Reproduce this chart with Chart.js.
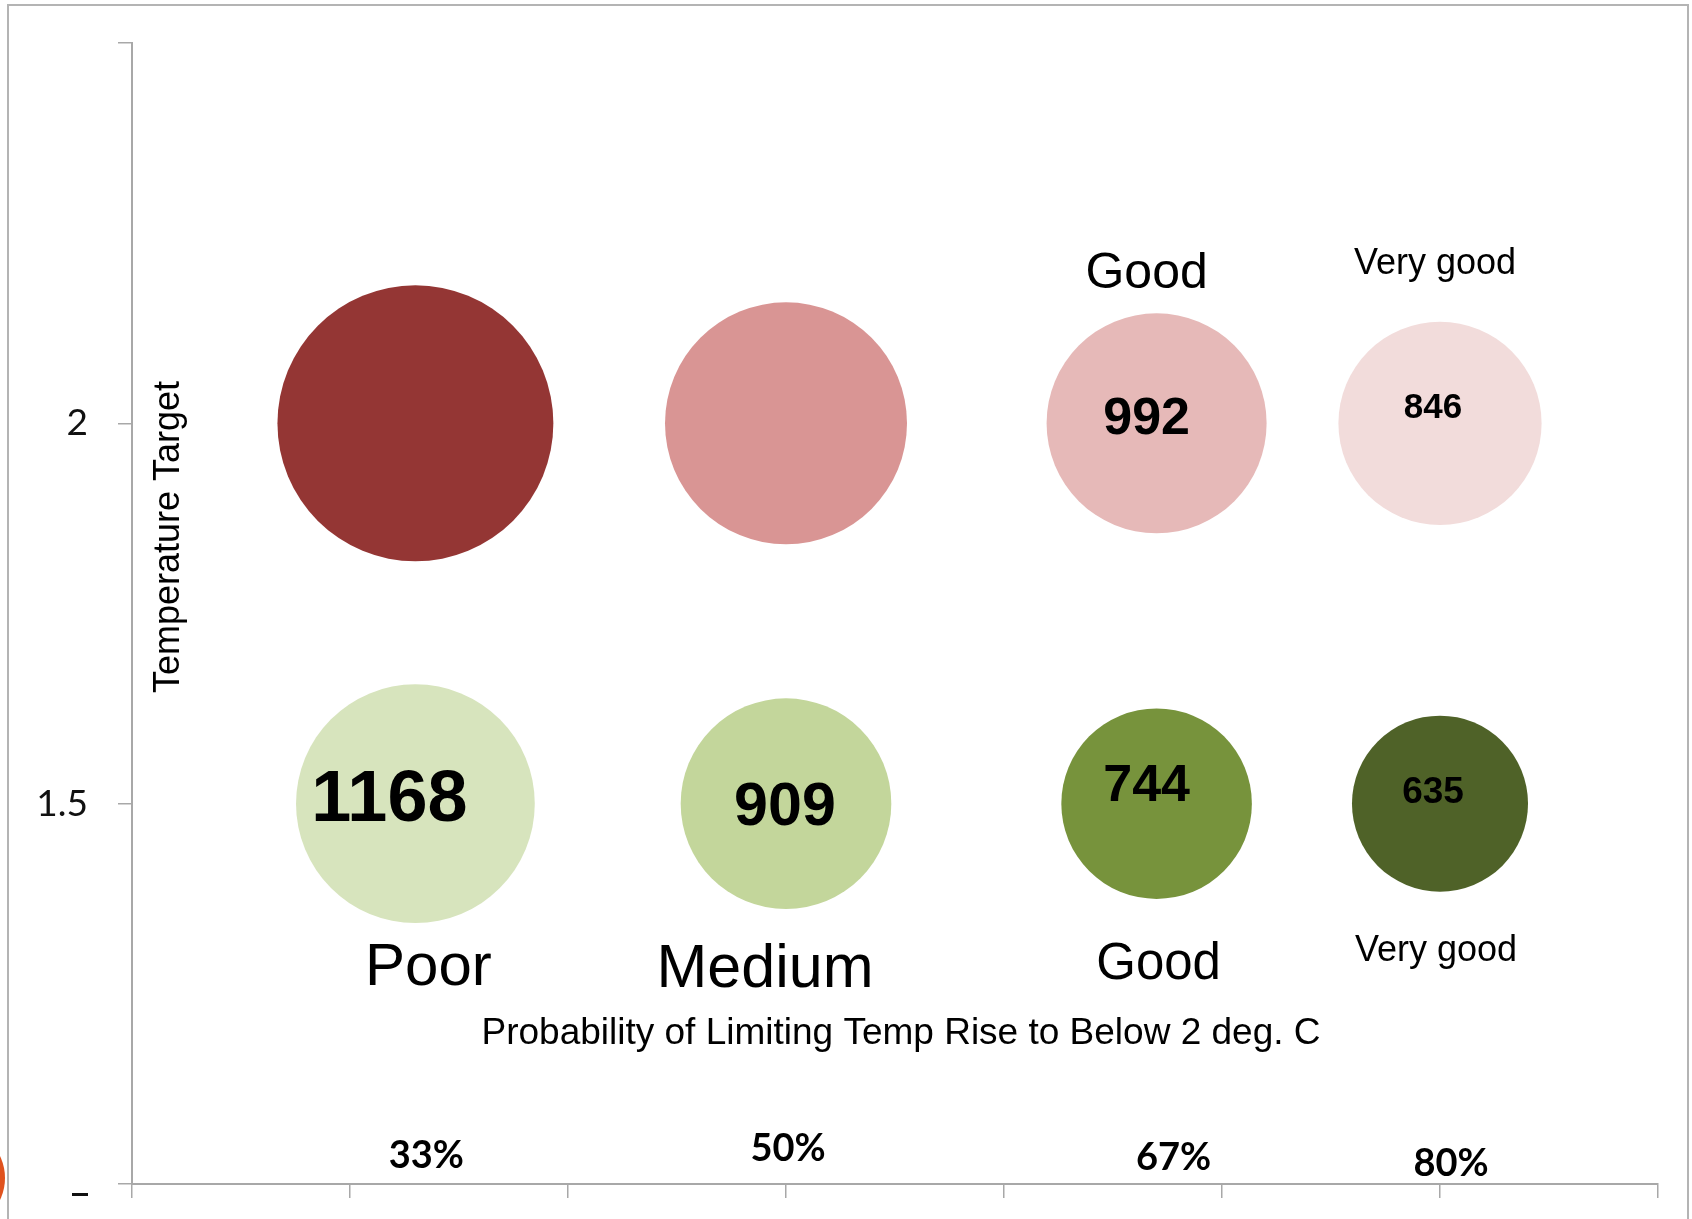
<!DOCTYPE html>
<html>
<head>
<meta charset="utf-8">
<title>Temperature Target</title>
<script src="https://cdn.jsdelivr.net/npm/chart.js@4.4.1/dist/chart.umd.min.js"></script>
<style>
  html, body { margin: 0; padding: 0; background: #ffffff; }
  #grafico { display: block; }
</style>
</head>
<body>
<canvas id="grafico" width="1692" height="1219"></canvas>
<script>
// Datos
const categorias = ['Poor', 'Medium', 'Good', 'Very good'];
const probabilidad = [33, 50, 67, 80];            // % en el eje x
const etiquetasProb = ['33%', '50%', '67%', '80%'];
const objetivos = [2, 1.5];                       // eje y (deg. C)
const valores2 = [1560, 1200, 992, 846];          // los dos primeros no estan rotulados: estimados por tamano
const valores15 = [1168, 909, 744, 635];
const ticksY = [1, 1.5, 2, 2.5];
const ticksYVisibles = [1.5, 2];

// Colores
const coloresRojos = ['#943634', '#d99594', '#e6b9b8', '#f2dcdb'];
const coloresVerdes = ['#d7e4bd', '#c3d69b', '#77933c', '#4f6228'];
const gris = '#a8a8a8';

const PX_POR_RAIZ = 3.493; // radio = k * sqrt(valor), como Excel (area proporcional)

function puntos(valores, y) {
  return valores.map((v, i) => ({ x: probabilidad[i], y: y, r: PX_POR_RAIZ * Math.sqrt(v), v: v }));
}

// Posiciones de los textos (desplazamiento en px respecto al centro de cada burbuja)
const rotulosValor = {
  fila2: { mostrar: [2, 3], dx: [0, 0, -10, -7], dy: [0, 0, -8, -18], size: [0, 0, 52, 35] },
  fila15: { mostrar: [0, 1, 2, 3], dx: [-26, -1, -10, -7], dy: [-8, -1, -21, -14], size: [72, 61, 52, 37] }
};
const rotulosCategoria = {
  arriba: { mostrar: [2, 3], dx: [0, 0, -10, -5], dy: [0, 0, -153, -162], size: [0, 0, 50, 36] },
  abajo: { mostrar: [0, 1, 2, 3], dx: [13, -21, 2, -4], dy: [160, 161, 157, 144], size: [60, 61, 51, 36] }
};
const rotulosProb = { dx: [11, 2, 17, 11], dy: [-30, -37, -28, -22], size: 38 };

function texto(c, str, cx, cy, size, bold, familia, cap) {
  c.font = (bold ? 'bold ' : '') + size + 'px ' + familia;
  c.textAlign = 'center';
  c.textBaseline = 'alphabetic';
  c.fillText(str, cx, cy + size * cap / 2);
}

const ARIAL = '"Liberation Sans", Arial, sans-serif';
const CALIBRI = 'Lato, "Open Sans", sans-serif';

const pluginTextos = {
  id: 'textos',
  beforeDraw(chart) {
    const c = chart.ctx;
    c.save();
    c.fillStyle = '#ffffff';
    c.fillRect(0, 0, chart.width, chart.height);
    // marco de la diapositiva
    c.strokeStyle = '#b4b4b4';
    c.lineWidth = 2;
    c.strokeRect(8, 5, 1680, 1240);
    // circulo naranja cortado a la izquierda
    c.fillStyle = '#e0521e';
    c.beginPath();
    c.arc(-46, 1178, 51, 0, Math.PI * 2);
    c.fill();
    // resto de la etiqueta del eje y
    c.fillStyle = '#111111';
    c.fillRect(72, 1193, 16, 3);
    c.restore();
  },
  afterDatasetsDraw(chart) {
    const c = chart.ctx;
    const x = chart.scales.x;
    const y = chart.scales.y;
    c.save();
    c.fillStyle = '#000000';

    // valores dentro de las burbujas
    [[valores2, objetivos[0], rotulosValor.fila2], [valores15, objetivos[1], rotulosValor.fila15]].forEach(([vals, yv, cfg]) => {
      cfg.mostrar.forEach(i => {
        const px = x.getPixelForValue(probabilidad[i]) + cfg.dx[i];
        const py = y.getPixelForValue(yv) + cfg.dy[i];
        texto(c, String(vals[i]), px, py, cfg.size[i], true, ARIAL, 0.716);
      });
    });

    // categorias (Poor, Medium, Good, Very good)
    [[objetivos[0], rotulosCategoria.arriba], [objetivos[1], rotulosCategoria.abajo]].forEach(([yv, cfg]) => {
      cfg.mostrar.forEach(i => {
        const px = x.getPixelForValue(probabilidad[i]) + cfg.dx[i];
        const py = y.getPixelForValue(yv) + cfg.dy[i];
        texto(c, categorias[i], px, py, cfg.size[i], false, ARIAL, 0.716);
      });
    });

    // porcentajes sobre el eje x
    etiquetasProb.forEach((lab, i) => {
      const px = x.getPixelForValue(probabilidad[i]) + rotulosProb.dx[i];
      const py = chart.chartArea.bottom + rotulosProb.dy[i];
      texto(c, lab, px, py, rotulosProb.size, true, CALIBRI, 0.72);
    });

    // titulos de los ejes, dentro del area
    texto(c, 'Probability of Limiting Temp Rise to Below 2 deg. C', 901, 1031, 37, false, ARIAL, 0.716);
    c.translate(166, 537);
    c.rotate(-Math.PI / 2);
    texto(c, 'Temperature Target', 0, 0, 36, false, ARIAL, 0.716);
    c.restore();
  }
};

const ctx = document.getElementById('grafico').getContext('2d');
new Chart(ctx, {
  type: 'bubble',
  data: {
    datasets: [
      { label: '2 deg', data: puntos(valores2, objetivos[0]), backgroundColor: coloresRojos, borderWidth: 0 },
      { label: '1.5 deg', data: puntos(valores15, objetivos[1]), backgroundColor: coloresVerdes, borderWidth: 0 }
    ]
  },
  options: {
    responsive: false,
    animation: false,
    layout: { autoPadding: false, padding: { top: 43, right: 34, left: 0, bottom: 0 } },
    plugins: {
      legend: { display: false },
      tooltip: { enabled: false }
    },
    scales: {
      x: {
        type: 'linear',
        min: 20,
        max: 90,
        afterFit(s) { s.height = 35; },
        ticks: { stepSize: 10, autoSkip: false, padding: 0, callback: () => '' },
        grid: { drawOnChartArea: false, drawTicks: true, tickLength: 14, color: gris, lineWidth: 1.5 },
        border: { display: true, color: gris, width: 2 }
      },
      y: {
        type: 'linear',
        min: ticksY[0],
        max: ticksY[ticksY.length - 1],
        afterFit(s) { s.width = 132; },
        afterBuildTicks(s) { s.ticks = ticksY.map(v => ({ value: v })); },
        ticks: {
          autoSkip: false,
          padding: 30,
          color: '#111111',
          // lineHeight pequeno para que el padding del eje no empuje el area del grafico
          font: { family: CALIBRI, size: 37, lineHeight: 0.25 },
          callback: v => (ticksYVisibles.includes(v) ? String(v) : '')
        },
        grid: { drawOnChartArea: false, drawTicks: true, tickLength: 14, color: gris, lineWidth: 1.5 },
        border: { display: true, color: gris, width: 2 }
      }
    }
  },
  plugins: [pluginTextos]
});
</script>
</body>
</html>
